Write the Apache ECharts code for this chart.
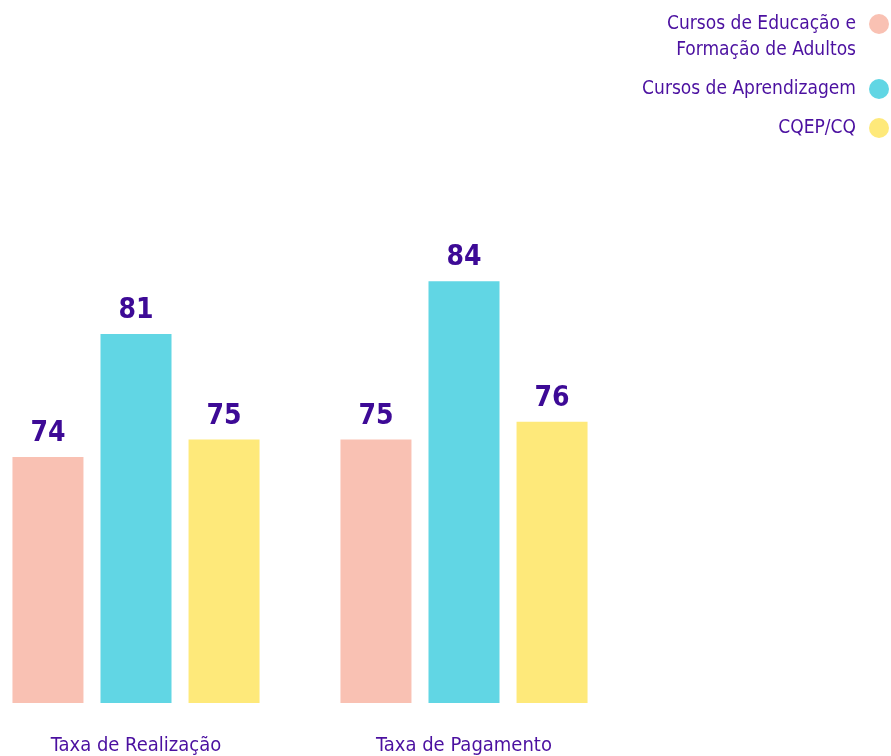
<!DOCTYPE html>
<html>
<head>
<meta charset="utf-8">
<script src="https://cdn.jsdelivr.net/npm/echarts@6/dist/echarts.min.js"></script>
<style>html,body{margin:0;padding:0;background:#fff}#c{width:891px;height:756px}</style>
</head>
<body>
<div id="c"></div>
<script>
const categories = ['Taxa de Realização', 'Taxa de Pagamento'];
const seriesNames = ['Cursos de Educação e\nFormação de Adultos', 'Cursos de Aprendizagem', 'CQEP/CQ'];
const efaValues = [74, 75];
const aprendizagemValues = [81, 84];
const cqepValues = [75, 76];
const colors = ['#f9c1b3', '#61d6e4', '#fee97a'];
const FONT = "'DejaVu Sans Condensed', sans-serif";
const TXT = '#4b10a0';
const NUM = '#3d0a96';

const chart = echarts.init(document.getElementById('c'));
const valueSets = [efaValues, aprendizagemValues, cqepValues];
chart.setOption({
  animation: false,
  textStyle: { fontFamily: FONT },
  legend: {
    orient: 'vertical',
    align: 'right',
    right: 2,
    top: -15,
    padding: 0,
    itemGap: 13,
    itemWidth: 20,
    itemHeight: 20,
    icon: 'circle',
    formatter: name => name.indexOf('\n') >= 0 ? '\n' + name : name,
    textStyle: { color: TXT, fontSize: 19, fontFamily: FONT, lineHeight: 26, align: 'right', padding: [0, 8, 0, 0] },
    data: seriesNames
  },
  grid: { left: 136, right: 427, top: 0, bottom: 52 },
  xAxis: {
    type: 'category',
    data: categories,
    boundaryGap: false,
    axisLine: { show: false },
    axisTick: { show: false },
    splitLine: { show: false },
    axisLabel: { color: TXT, fontSize: 20, fontFamily: FONT, margin: 33 }
  },
  yAxis: { type: 'value', min: 60, max: 100, startValue: 60, show: false, splitLine: { show: false } },
  series: valueSets.map((vals, i) => ({
    name: seriesNames[i],
    type: 'bar',
    data: vals,
    clip: false,
    barWidth: 71,
    barGap: '24%',
    itemStyle: { color: colors[i] },
    label: { show: true, position: 'top', distance: 9, color: NUM, fontSize: 28, fontWeight: 'bold', fontFamily: FONT }
  }))
});
</script>
</body>
</html>
